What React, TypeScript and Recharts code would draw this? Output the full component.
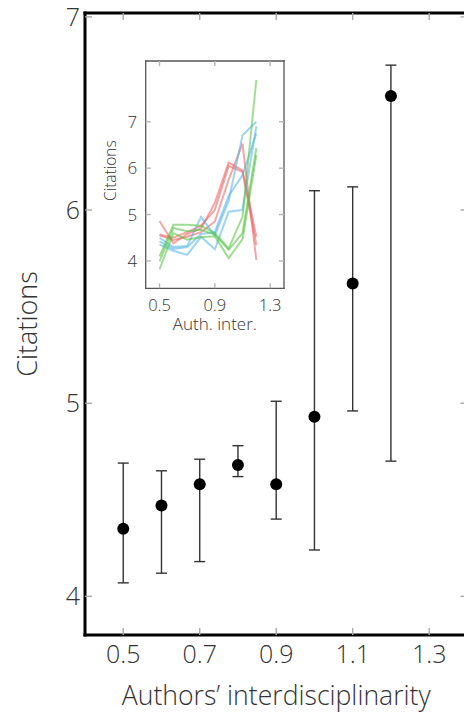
import { ScatterChart, Scatter, ErrorBar, XAxis, YAxis, Label } from "recharts";

// main panel: mean citations with error bars per interdisciplinarity bin
const binX = [0.5, 0.6, 0.7, 0.8, 0.9, 1.0, 1.1, 1.2];
const binMean = [4.35, 4.47, 4.58, 4.68, 4.58, 4.93, 5.62, 6.59];
const binLow = [4.07, 4.12, 4.18, 4.62, 4.4, 4.24, 4.96, 4.7];
const binHigh = [4.69, 4.65, 4.71, 4.78, 5.01, 6.1, 6.12, 6.75];

const mainXTicks = [0.5, 0.7, 0.9, 1.1, 1.3];
const mainYTicks = [4, 5, 6, 7];

// inset: individual runs
const insetX = [0.5, 0.6, 0.7, 0.8, 0.9, 1.0, 1.1, 1.2];
const red1 = [4.86, 4.38, 4.58, 4.7, 5.25, 6.12, 5.95, 4.52];
const red2 = [4.57, 4.5, 4.62, 4.76, 5.1, 6.05, 5.92, 4.34];
const red3 = [4.55, 4.45, 4.52, 4.62, 4.85, 5.75, 6.53, 4.02];
const blue1 = [4.5, 4.3, 4.32, 4.95, 4.55, 5.3, 6.71, 7.0];
const blue2 = [4.42, 4.26, 4.3, 4.58, 4.62, 5.4, 5.85, 6.75];
const blue3 = [4.35, 4.22, 4.13, 4.52, 4.25, 5.06, 5.1, 6.9];
const green1 = [4.1, 4.78, 4.78, 4.76, 4.6, 4.27, 4.95, 7.9];
const green2 = [3.99, 4.71, 4.64, 4.67, 4.57, 4.24, 4.6, 6.43];
const green3 = [3.82, 4.6, 4.46, 4.51, 4.53, 4.06, 4.47, 6.28];

const insetXTicks = [0.5, 0.9, 1.3];
const insetYTicks = [4, 5, 6, 7];

const runs = [
  { key: "r1", vals: red1, color: "#ef5b5b" },
  { key: "r2", vals: red2, color: "#ef5b5b" },
  { key: "r3", vals: red3, color: "#ef5b5b" },
  { key: "b1", vals: blue1, color: "#4db1ea" },
  { key: "b2", vals: blue2, color: "#4db1ea" },
  { key: "b3", vals: blue3, color: "#4db1ea" },
  { key: "g1", vals: green1, color: "#4cc23a" },
  { key: "g2", vals: green2, color: "#4cc23a" },
  { key: "g3", vals: green3, color: "#4cc23a" },
];

const mainRows = binX.map((x, i) => ({
  x,
  y: binMean[i],
  err: [binMean[i] - binLow[i], binHigh[i] - binMean[i]],
}));

const runRows = runs.map((r) => ({
  ...r,
  rows: insetX.map((x, i) => ({ x, y: r.vals[i] })),
}));

const FONT = "'Open Sans', sans-serif";
const TXT = "#333";

// chart boxes (from the margins below)
const MAIN_TOP = 13;
const MAIN_RIGHT = 480 - 11.6 - 1;
const INSET_TOP = 61;
const INSET_RIGHT = 300 - 15 - 1;

type LabelOpt = { gap: number; size: number; fmt: (v: number) => string };

// inward tick marks on both opposite edges, label outside on bottom / left
function xTick(len: number, color: string, top: number, label: LabelOpt) {
  return (p: any) => {
    const { x, y, payload } = p;
    return (
      <g>
        <line x1={x} y1={y} x2={x} y2={y - len} stroke={color} strokeWidth={1.4} />
        <line x1={x} y1={top} x2={x} y2={top + len} stroke={color} strokeWidth={1.4} />
        <text x={x} y={y + label.gap} textAnchor="middle" fontSize={label.size} fontFamily={FONT} fontWeight={300} fill={TXT}>
          {label.fmt(payload.value)}
        </text>
      </g>
    );
  };
}

function yTick(len: number, color: string, right: number, label: LabelOpt) {
  return (p: any) => {
    const { x, y, payload } = p;
    return (
      <g>
        <line x1={x} y1={y} x2={x + len} y2={y} stroke={color} strokeWidth={1.4} />
        <line x1={right} y1={y} x2={right - len} y2={y} stroke={color} strokeWidth={1.4} />
        <text x={x - label.gap} y={y} dy="0.36em" textAnchor="end" fontSize={label.size} fontFamily={FONT} fontWeight={300} fill={TXT}>
          {label.fmt(payload.value)}
        </text>
      </g>
    );
  };
}

const dot = (p: any) => <circle cx={p.cx} cy={p.cy} r={6} fill="#000" />;
const noDot = () => <g />;

const axisBase = { tickSize: 0, tickMargin: 0, interval: 0 as const, allowDataOverflow: true };

export default function App() {
  const mainLine = { stroke: "#000", strokeWidth: 3, strokeLinecap: "square" as const };
  const insetLine = { stroke: "#555", strokeWidth: 1.3, strokeLinecap: "square" as const };
  const fmt1 = (v: number) => v.toFixed(1);
  const fmt0 = (v: number) => String(v);

  return (
    <div style={{ position: "absolute", left: 0, top: 0, width: 464, height: 713, overflow: "hidden", background: "#fff" }}>
      <div style={{ position: "absolute", left: 0, top: 0 }}>
        <ScatterChart width={480} height={713} margin={{ top: 12, right: 11.6, bottom: 77, left: 84 }}>
          <XAxis
            xAxisId="b"
            type="number"
            dataKey="x"
            domain={[0.4, 1.4]}
            ticks={mainXTicks}
            height={1}
            {...axisBase}
            axisLine={mainLine}
            tickLine={false}
            tick={xTick(7, "#aaa", MAIN_TOP, { gap: 28, size: 25, fmt: fmt1 })}
          >
            <Label
              content={(p: any) => (
                <text
                  x={p.viewBox.x + p.viewBox.width / 2}
                  y={p.viewBox.y + 70}
                  textAnchor="middle"
                  fontSize={26.6}
                  fontFamily={FONT}
                  fontWeight={300}
                  fill={TXT}
                >
                  Authors’ interdisciplinarity
                </text>
              )}
            />
          </XAxis>
          <XAxis
            xAxisId="t"
            type="number"
            dataKey="x"
            orientation="top"
            domain={[0.4, 1.4]}
            height={1}
            {...axisBase}
            axisLine={mainLine}
            tickLine={false}
            tick={false}
          />
          <YAxis
            yAxisId="l"
            type="number"
            dataKey="y"
            domain={[3.8, 7.02]}
            ticks={mainYTicks}
            width={1}
            {...axisBase}
            axisLine={mainLine}
            tickLine={false}
            tick={yTick(7, "#aaa", MAIN_RIGHT, { gap: 5, size: 25, fmt: fmt0 })}
          >
            <Label
              content={(p: any) => {
                const cx = p.viewBox.x + p.viewBox.width - 57;
                const cy = p.viewBox.y + p.viewBox.height / 2;
                return (
                  <text
                    x={cx}
                    y={cy}
                    dy="0.35em"
                    transform={`rotate(-90, ${cx}, ${cy})`}
                    textAnchor="middle"
                    fontSize={27}
                    fontFamily={FONT}
                    fontWeight={300}
                    fill={TXT}
                  >
                    Citations
                  </text>
                );
              }}
            />
          </YAxis>
          <YAxis
            yAxisId="r"
            type="number"
            dataKey="y"
            orientation="right"
            domain={[3.8, 7.02]}
            width={1}
            {...axisBase}
            axisLine={mainLine}
            tickLine={false}
            tick={false}
          />
          <Scatter xAxisId="b" yAxisId="l" data={mainRows} dataKey="y" shape={dot} isAnimationActive={false}>
            <ErrorBar dataKey="err" direction="y" width={5.5} stroke="#333" strokeWidth={1.4} isAnimationActive={false} />
          </Scatter>
        </ScatterChart>
      </div>

      <div style={{ position: "absolute", left: 0, top: 0 }}>
        <ScatterChart width={300} height={340} margin={{ top: 60, right: 15, bottom: 50.7, left: 144.7 }}>
          <XAxis
            xAxisId="b"
            type="number"
            dataKey="x"
            domain={[0.4, 1.4]}
            ticks={insetXTicks}
            height={1}
            {...axisBase}
            axisLine={insetLine}
            tickLine={false}
            tick={xTick(5, "#b5b5b5", INSET_TOP, { gap: 22.5, size: 16.5, fmt: fmt1 })}
          >
            <Label
              content={(p: any) => (
                <text
                  x={p.viewBox.x + p.viewBox.width / 2}
                  y={p.viewBox.y + 41.5}
                  textAnchor="middle"
                  fontSize={17}
                  fontFamily={FONT}
                  fontWeight={300}
                  fill={TXT}
                >
                  Auth. inter.
                </text>
              )}
            />
          </XAxis>
          <XAxis
            xAxisId="t"
            type="number"
            dataKey="x"
            orientation="top"
            domain={[0.4, 1.4]}
            height={1}
            {...axisBase}
            axisLine={insetLine}
            tickLine={false}
            tick={false}
          />
          <YAxis
            yAxisId="l"
            type="number"
            dataKey="y"
            domain={[3.41, 8.31]}
            ticks={insetYTicks}
            width={1}
            {...axisBase}
            axisLine={insetLine}
            tickLine={false}
            tick={yTick(5, "#b5b5b5", INSET_RIGHT, { gap: 8.5, size: 17, fmt: fmt0 })}
          >
            <Label
              content={(p: any) => {
                const cx = p.viewBox.x + p.viewBox.width - 35;
                const cy = p.viewBox.y + p.viewBox.height / 2 - 4;
                return (
                  <text
                    x={cx}
                    y={cy}
                    dy="0.35em"
                    transform={`rotate(-90, ${cx}, ${cy})`}
                    textAnchor="middle"
                    fontSize={15.5}
                    fontFamily={FONT}
                    fontWeight={300}
                    fill={TXT}
                  >
                    Citations
                  </text>
                );
              }}
            />
          </YAxis>
          <YAxis
            yAxisId="r"
            type="number"
            dataKey="y"
            orientation="right"
            domain={[3.41, 8.31]}
            width={1}
            {...axisBase}
            axisLine={insetLine}
            tickLine={false}
            tick={false}
          />
          {runRows.map((r) => (
            <Scatter
              key={r.key}
              xAxisId="b"
              yAxisId="l"
              data={r.rows}
              dataKey="y"
              shape={noDot}
              line={{ stroke: r.color, strokeOpacity: 0.55, strokeWidth: 2 }}
              isAnimationActive={false}
            />
          ))}
        </ScatterChart>
      </div>
    </div>
  );
}
